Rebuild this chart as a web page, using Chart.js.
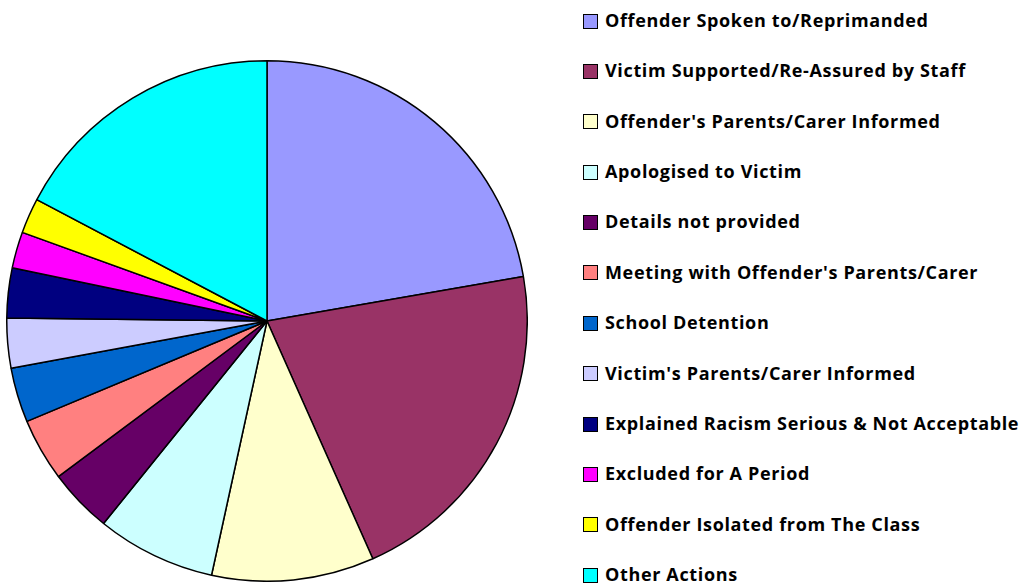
<!DOCTYPE html>
<html>
<head>
<meta charset="utf-8">
<script src="https://cdn.jsdelivr.net/npm/chart.js@4/dist/chart.umd.min.js"></script>
<style>
  html, body { margin: 0; padding: 0; background: #fff; }
  body { width: 1029px; height: 584px; position: relative; overflow: hidden; }
  #pieBox { position: absolute; left: 6px; top: 60px; width: 522px; height: 522px; }
  #legend { position: absolute; left: 583px; top: 0; margin: 0; padding: 0; list-style: none;
            font-family: "Open Sans", "DejaVu Sans", sans-serif; font-weight: 700; font-size: 18px;
            letter-spacing: 0.65px; color: #000; }
  #legend li { position: absolute; left: 0; white-space: nowrap; height: 20px; line-height: 20px; }
  #legend .box { display: inline-block; width: 13px; height: 13px; border: 1px solid #000;
                 vertical-align: middle; margin-right: 7px; position: relative; top: -1px; }
</style>
</head>
<body>
<div id="pieBox"><canvas id="pieChart"></canvas></div>
<ul id="legend"></ul>

<script>
// pie.js

const categories = [
  "Offender Spoken to/Reprimanded",
  "Victim Supported/Re-Assured by Staff",
  "Offender's Parents/Carer Informed",
  "Apologised to Victim",
  "Details not provided",
  "Meeting with Offender's Parents/Carer",
  "School Detention",
  "Victim's Parents/Carer Informed",
  "Explained Racism Serious & Not Acceptable",
  "Excluded for A Period",
  "Offender Isolated from The Class",
  "Other Actions"
];

// share of actions (%)
const shares = [22.3, 21.1, 10.1, 7.4, 4.0, 3.9, 3.4, 3.1, 3.1, 2.25, 2.2, 17.3];

const colours = [
  "#9999FF", "#993366", "#FFFFCC", "#CCFFFF", "#660066", "#FF8080",
  "#0066CC", "#CCCCFF", "#000080", "#FF00FF", "#FFFF00", "#00FFFF"
];

/**
 * Build the legend on the right
 */
function renderLegend() {
  const list = document.getElementById("legend");
  categories.forEach((name, i) => {
    const li = document.createElement("li");
    li.style.top = (10 + i * 50.36) + "px";
    li.innerHTML = `<span class="box" style="background:${colours[i]}"></span>${name}`;
    list.appendChild(li);
  });
}

/**
 * Render the pie
 */
function renderPie() {
  new Chart(document.getElementById("pieChart"), {
    type: "pie",
    data: {
      labels: categories,
      datasets: [
        {
          data: shares,
          backgroundColor: colours,
          borderColor: "#000",
          borderWidth: 1.5,
        },
      ],
    },
    options: {
      responsive: true,
      maintainAspectRatio: false,
      animation: false,
      layout: { padding: 0 },
      plugins: { legend: { display: false }, tooltip: { enabled: false } },
    },
  });
}

renderLegend();
renderPie();
</script>
</body>
</html>
